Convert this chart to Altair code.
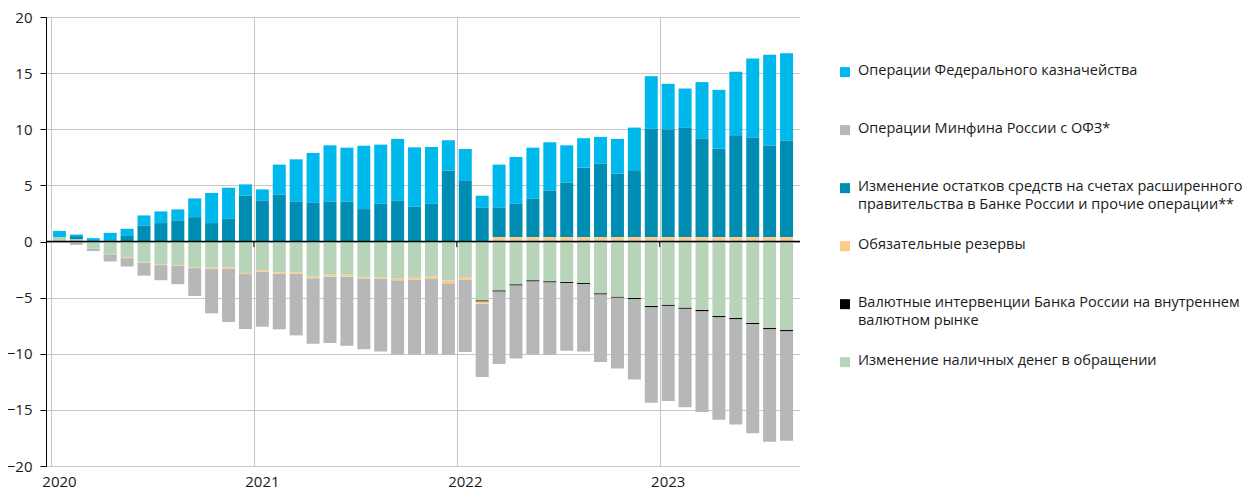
import altair as alt
import pandas as pd

# Months Jan 2020 .. Aug 2023 (44 bars), trillion rubles, cumulative since start of year
years = ["2020", "2021", "2022", "2023"]
n_months = 44

treasury = [0.58, 0.14, 0.30, 0.67, 0.63, 0.92, 1.04, 0.98, 1.67, 2.68, 2.77, 1.01,
            0.98, 2.68, 3.75, 4.41, 5.03, 4.82, 5.65, 5.27, 5.48, 5.29, 5.06, 2.71,
            2.79, 1.08, 3.85, 4.17, 4.55, 4.29, 3.33, 2.62, 2.39, 3.10, 3.81, 4.70,
            4.08, 3.51, 5.03, 5.24, 5.66, 7.05, 8.10, 7.77]
ofz = [0.00, -0.30, -0.20, -0.62, -0.75, -1.16, -1.35, -1.65, -2.48, -3.99, -4.73, -4.90,
       -4.89, -4.94, -5.47, -5.83, -5.92, -6.16, -6.31, -6.46, -6.61, -6.64, -6.73, -6.37,
       -6.46, -6.54, -6.48, -6.52, -6.52, -6.46, -6.04, -6.01, -6.04, -6.31, -7.17, -8.53,
       -8.47, -8.77, -8.98, -9.16, -9.40, -9.73, -10.03, -9.76]
gov_accounts = [0.00, 0.30, 0.00, 0.10, 0.50, 1.40, 1.64, 1.88, 2.17, 1.64, 2.02, 4.08,
                3.66, 4.17, 3.57, 3.48, 3.54, 3.54, 2.89, 3.36, 3.66, 3.10, 3.36, 6.31,
                5.45, 3.00, 2.61, 2.97, 3.42, 4.16, 4.85, 6.19, 6.54, 5.65, 5.95, 9.64,
                9.58, 9.73, 8.78, 7.88, 9.07, 8.87, 8.15, 8.60]
reserves = [0.00, 0.00, 0.00, 0.00, -0.08, -0.06, -0.05, -0.05, -0.07, -0.08, -0.15, -0.10,
            -0.15, -0.15, -0.15, -0.14, -0.18, -0.18, -0.12, -0.15, -0.18, -0.18, -0.20, -0.24,
            -0.21, -0.21, 0.39, 0.39, 0.39, 0.39, 0.39, 0.39, 0.39, 0.39, 0.39, 0.39,
            0.39, 0.39, 0.39, 0.39, 0.39, 0.39, 0.39, 0.39]
fx = [0.00, 0.00, 0.00, 0.00, 0.00, 0.00, 0.00, 0.00, 0.00, 0.00, 0.00, 0.00,
      0.00, 0.00, 0.00, 0.00, 0.00, 0.00, 0.00, 0.00, 0.00, 0.00, 0.00, 0.00,
      0.00, -0.09, -0.09, -0.09, -0.09, -0.09, -0.09, -0.09, -0.09, -0.09, -0.09, -0.10,
      -0.10, -0.10, -0.10, -0.09, -0.09, -0.09, -0.09, -0.09]
cash = [0.36, 0.18, -0.65, -1.16, -1.40, -1.82, -2.05, -2.10, -2.30, -2.33, -2.29, -2.80,
        -2.55, -2.74, -2.74, -3.13, -2.95, -2.95, -3.18, -3.18, -3.27, -3.24, -3.13, -3.48,
        -3.18, -5.24, -4.35, -3.81, -3.45, -3.54, -3.60, -3.69, -4.61, -4.91, -5.03, -5.74,
        -5.63, -5.89, -6.10, -6.64, -6.82, -7.26, -7.71, -7.89]

series_names = [
    "Операции Федерального казначейства",
    "Операции Минфина России с ОФЗ*",
    "Изменение остатков средств на счетах расширенного правительства в Банке России и прочие операции**",
    "Обязательные резервы",
    "Валютные интервенции Банка России на внутреннем валютном рынке",
    "Изменение наличных денег в обращении",
]
legend_labels = [
    "Операции Федерального казначейства",
    "Операции Минфина России с ОФЗ*",
    "Изменение остатков средств на счетах расширенного\nправительства в Банке России и прочие операции**",
    "Обязательные резервы",
    "Валютные интервенции Банка России на внутреннем\nвалютном рынке",
    "Изменение наличных денег в обращении",
]
colors = ["#00b9ec", "#b6b7b9", "#008db3", "#fdca8b", "#000000", "#b7d4b9"]
stack_rank = [4, 5, 3, 2, 1, 0]
values = [treasury, ofz, gov_accounts, reserves, fx, cash]

rows = []
for s, name in enumerate(series_names):
    for i in range(n_months):
        rows.append({"m": i + 0.5, "v": values[s][i], "series": name, "rank": stack_rank[s]})
df = pd.DataFrame(rows)

FONT = "Open Sans"
color_scale = alt.Scale(domain=series_names, range=colors)

bars = alt.Chart(df).mark_bar(size=13).encode(
    x=alt.X("m:Q", scale=alt.Scale(domain=[0, n_months], nice=False, zero=False),
            axis=alt.Axis(values=[0, 12, 24, 36], title=None, domain=False, ticks=False,
                          labelExpr=f"{years}[datum.value / 12]", labelOffset=8,
                          labelPadding=8, labelFontSize=15, labelColor="#1a1a1a",
                          grid=True, gridColor="#c6c6c6", gridWidth=1)),
    y=alt.Y("v:Q", stack="zero", scale=alt.Scale(domain=[-20, 20], nice=False),
            axis=alt.Axis(values=list(range(-20, 21, 5)), title=None, domain=True,
                          domainColor="#000000", domainWidth=1, ticks=True, tickColor="#000000",
                          tickSize=6, labelPadding=8, labelFontSize=15, labelColor="#1a1a1a",
                          grid=True, gridColor="#c6c6c6", gridWidth=1)),
    color=alt.Color("series:N", scale=color_scale, legend=None),
    order=alt.Order("rank:Q", sort="ascending"),
)

zero_line = alt.Chart(pd.DataFrame({"y": [0]})).mark_rule(color="#000000", strokeWidth=1.5).encode(
    y="y:Q")

year_ticks = alt.Chart(pd.DataFrame({"x": [12, 24, 36]})).mark_rule(
    color="#000000", strokeWidth=1).encode(
    x="x:Q", y=alt.datum(0), y2=alt.datum(-0.5))

plot = alt.layer(bars, zero_line, year_ticks)

# legend drawn to the right of the plot area
leg_df = pd.DataFrame({"label": legend_labels, "series": series_names, "k": list(range(6))})
leg_y = alt.Y("k:Q", scale=alt.Scale(domain=[-0.95, 6.79], reverse=True, nice=False, zero=False),
              axis=None)
leg_sq = alt.Chart(leg_df).mark_square(size=100, opacity=1).encode(
    x=alt.value(799), y=leg_y, color=alt.Color("series:N", scale=color_scale, legend=None))
leg_tx = alt.Chart(leg_df).mark_text(align="left", baseline="top", dy=-8, lineBreak="\n",
                                     fontSize=14.5, lineHeight=17.5, color="#1a1a1a").encode(
    x=alt.value(812), y=leg_y, text="label:N")
legend = alt.layer(leg_sq, leg_tx)

chart = alt.layer(plot, legend).resolve_scale(y="independent").properties(
    width=754, height=449,
    autosize=alt.AutoSizeParams(type="none"),
    padding={"left": 38, "top": 9, "right": 444, "bottom": 24},
).configure(font=FONT).configure_view(strokeWidth=0)

chart.save("out.html", embed_options={"renderer": "svg", "actions": False})
